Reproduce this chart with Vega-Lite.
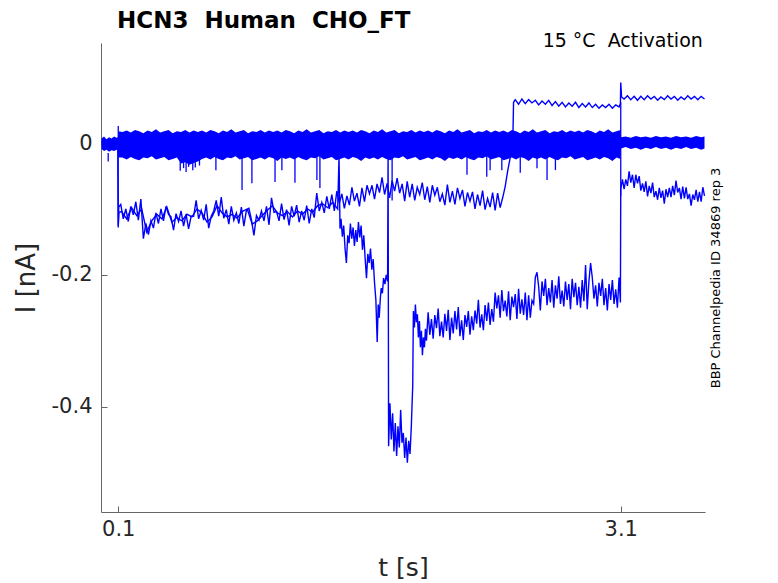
{
  "$schema": "https://vega.github.io/schema/vega-lite/v6.json",
  "description": "HCN3 Human CHO_FT current sweeps, 15 C activation protocol.",
  "width": 604,
  "height": 469,
  "autosize": {"type": "none"},
  "padding": {"left": 101, "top": 43, "right": 73, "bottom": 71},
  "title": {"text": "HCN3 \u00a0Human \u00a0CHO_FT", "anchor": "start", "frame": "group", "dx": 16, "offset": -19, "baseline": "alphabetic", "fontSize": 23, "fontWeight": "bold", "font": "DejaVu Sans", "color": "#000000"},
  "config": {
    "view": {"stroke": null},
    "font": "DejaVu Sans",
    "axis": {"grid": false, "domainColor": "#666666", "tickColor": "#666666", "labelColor": "#262626", "titleColor": "#262626", "labelFont": "DejaVu Sans", "titleFont": "DejaVu Sans", "titleFontWeight": "normal", "labelFontSize": 21, "titleFontSize": 25}
  },
  "datasets": {
    "band": [
      {"t":0,"hi":0.007,"lo":-0.009},{"t":0.015,"hi":0.01,"lo":-0.012},{"t":0.03,"hi":0.006,"lo":-0.01},{"t":0.045,"hi":0.009,"lo":-0.013},
      {"t":0.06,"hi":0.007,"lo":-0.011},{"t":0.075,"hi":0.01,"lo":-0.012},{"t":0.09,"hi":0.008,"lo":-0.01},{"t":0.099,"hi":0.009,"lo":-0.012},
      {"t":0.101,"hi":0.018,"lo":-0.022},
      {"t":0.125,"hi":0.017,"lo":-0.022},{"t":0.15,"hi":0.019,"lo":-0.025},{"t":0.175,"hi":0.016,"lo":-0.021},{"t":0.2,"hi":0.02,"lo":-0.024},
      {"t":0.225,"hi":0.018,"lo":-0.026},{"t":0.25,"hi":0.015,"lo":-0.022},{"t":0.275,"hi":0.019,"lo":-0.023},{"t":0.3,"hi":0.017,"lo":-0.02},
      {"t":0.325,"hi":0.021,"lo":-0.025},{"t":0.35,"hi":0.016,"lo":-0.023},{"t":0.375,"hi":0.018,"lo":-0.021},{"t":0.4,"hi":0.02,"lo":-0.026},
      {"t":0.425,"hi":0.015,"lo":-0.024},{"t":0.45,"hi":0.018,"lo":-0.022},{"t":0.475,"hi":0.017,"lo":-0.031},{"t":0.5,"hi":0.02,"lo":-0.029},
      {"t":0.525,"hi":0.016,"lo":-0.033},{"t":0.55,"hi":0.019,"lo":-0.03},{"t":0.575,"hi":0.017,"lo":-0.028},{"t":0.6,"hi":0.019,"lo":-0.024},
      {"t":0.625,"hi":0.016,"lo":-0.022},{"t":0.65,"hi":0.02,"lo":-0.025},{"t":0.675,"hi":0.018,"lo":-0.021},{"t":0.7,"hi":0.015,"lo":-0.024},
      {"t":0.725,"hi":0.019,"lo":-0.026},{"t":0.75,"hi":0.017,"lo":-0.022},{"t":0.775,"hi":0.021,"lo":-0.023},{"t":0.8,"hi":0.016,"lo":-0.02},
      {"t":0.825,"hi":0.018,"lo":-0.025},{"t":0.85,"hi":0.02,"lo":-0.023},{"t":0.875,"hi":0.015,"lo":-0.021},{"t":0.9,"hi":0.018,"lo":-0.026},
      {"t":0.925,"hi":0.017,"lo":-0.024},{"t":0.95,"hi":0.02,"lo":-0.022},{"t":0.975,"hi":0.016,"lo":-0.025},{"t":1,"hi":0.019,"lo":-0.021},
      {"t":1.025,"hi":0.017,"lo":-0.023},{"t":1.05,"hi":0.019,"lo":-0.027},{"t":1.075,"hi":0.016,"lo":-0.022},{"t":1.1,"hi":0.02,"lo":-0.024},
      {"t":1.125,"hi":0.018,"lo":-0.022},{"t":1.15,"hi":0.015,"lo":-0.025},{"t":1.175,"hi":0.019,"lo":-0.021},{"t":1.2,"hi":0.017,"lo":-0.024},
      {"t":1.225,"hi":0.021,"lo":-0.026},{"t":1.25,"hi":0.016,"lo":-0.022},{"t":1.275,"hi":0.018,"lo":-0.023},{"t":1.3,"hi":0.02,"lo":-0.02},
      {"t":1.325,"hi":0.015,"lo":-0.025},{"t":1.35,"hi":0.018,"lo":-0.023},{"t":1.375,"hi":0.017,"lo":-0.021},{"t":1.4,"hi":0.02,"lo":-0.026},
      {"t":1.425,"hi":0.016,"lo":-0.024},{"t":1.45,"hi":0.019,"lo":-0.022},{"t":1.475,"hi":0.017,"lo":-0.025},{"t":1.5,"hi":0.019,"lo":-0.021},
      {"t":1.525,"hi":0.016,"lo":-0.023},{"t":1.55,"hi":0.02,"lo":-0.027},{"t":1.575,"hi":0.018,"lo":-0.022},{"t":1.6,"hi":0.015,"lo":-0.024},
      {"t":1.625,"hi":0.019,"lo":-0.022},{"t":1.65,"hi":0.017,"lo":-0.025},{"t":1.675,"hi":0.021,"lo":-0.021},{"t":1.7,"hi":0.016,"lo":-0.024},
      {"t":1.725,"hi":0.018,"lo":-0.026},{"t":1.75,"hi":0.02,"lo":-0.022},{"t":1.775,"hi":0.015,"lo":-0.023},{"t":1.8,"hi":0.018,"lo":-0.02},
      {"t":1.825,"hi":0.017,"lo":-0.025},{"t":1.85,"hi":0.02,"lo":-0.023},{"t":1.875,"hi":0.016,"lo":-0.021},{"t":1.9,"hi":0.019,"lo":-0.026},
      {"t":1.925,"hi":0.017,"lo":-0.024},{"t":1.95,"hi":0.019,"lo":-0.022},{"t":1.975,"hi":0.016,"lo":-0.025},{"t":2,"hi":0.02,"lo":-0.021},
      {"t":2.025,"hi":0.018,"lo":-0.023},{"t":2.05,"hi":0.015,"lo":-0.027},{"t":2.075,"hi":0.019,"lo":-0.022},{"t":2.1,"hi":0.017,"lo":-0.024},
      {"t":2.125,"hi":0.021,"lo":-0.022},{"t":2.15,"hi":0.016,"lo":-0.025},{"t":2.175,"hi":0.018,"lo":-0.021},{"t":2.2,"hi":0.02,"lo":-0.024},
      {"t":2.225,"hi":0.015,"lo":-0.026},{"t":2.25,"hi":0.018,"lo":-0.022},{"t":2.275,"hi":0.017,"lo":-0.023},{"t":2.3,"hi":0.02,"lo":-0.02},
      {"t":2.325,"hi":0.016,"lo":-0.025},{"t":2.35,"hi":0.019,"lo":-0.023},{"t":2.375,"hi":0.017,"lo":-0.021},{"t":2.4,"hi":0.019,"lo":-0.026},
      {"t":2.425,"hi":0.016,"lo":-0.024},{"t":2.45,"hi":0.02,"lo":-0.022},{"t":2.475,"hi":0.018,"lo":-0.025},{"t":2.5,"hi":0.015,"lo":-0.021},
      {"t":2.525,"hi":0.019,"lo":-0.023},{"t":2.55,"hi":0.017,"lo":-0.027},{"t":2.575,"hi":0.021,"lo":-0.022},{"t":2.6,"hi":0.016,"lo":-0.024},
      {"t":2.625,"hi":0.018,"lo":-0.022},{"t":2.65,"hi":0.02,"lo":-0.025},{"t":2.675,"hi":0.015,"lo":-0.021},{"t":2.7,"hi":0.018,"lo":-0.024},
      {"t":2.725,"hi":0.017,"lo":-0.026},{"t":2.75,"hi":0.02,"lo":-0.022},{"t":2.775,"hi":0.016,"lo":-0.023},{"t":2.8,"hi":0.019,"lo":-0.02},
      {"t":2.825,"hi":0.017,"lo":-0.025},{"t":2.85,"hi":0.019,"lo":-0.023},{"t":2.875,"hi":0.016,"lo":-0.021},{"t":2.9,"hi":0.02,"lo":-0.026},
      {"t":2.925,"hi":0.018,"lo":-0.024},{"t":2.95,"hi":0.015,"lo":-0.022},{"t":2.975,"hi":0.019,"lo":-0.025},{"t":3,"hi":0.017,"lo":-0.021},
      {"t":3.025,"hi":0.021,"lo":-0.023},{"t":3.05,"hi":0.016,"lo":-0.027},{"t":3.075,"hi":0.018,"lo":-0.022},{"t":3.098,"hi":0.02,"lo":-0.024},
      {"t":3.101,"hi":0.009,"lo":-0.008},{"t":3.13,"hi":0.01,"lo":-0.006},{"t":3.16,"hi":0.008,"lo":-0.009},{"t":3.19,"hi":0.011,"lo":-0.007},
      {"t":3.22,"hi":0.009,"lo":-0.01},{"t":3.25,"hi":0.01,"lo":-0.007},{"t":3.28,"hi":0.008,"lo":-0.009},{"t":3.31,"hi":0.011,"lo":-0.006},
      {"t":3.34,"hi":0.009,"lo":-0.009},{"t":3.37,"hi":0.01,"lo":-0.007},{"t":3.4,"hi":0.008,"lo":-0.01},{"t":3.43,"hi":0.011,"lo":-0.007},
      {"t":3.46,"hi":0.009,"lo":-0.009},{"t":3.49,"hi":0.01,"lo":-0.006},{"t":3.52,"hi":0.008,"lo":-0.009},{"t":3.55,"hi":0.011,"lo":-0.007},
      {"t":3.58,"hi":0.009,"lo":-0.01},{"t":3.6,"hi":0.01,"lo":-0.008}
    ],
    "spikes": [
      {"t":0.04,"v":-0.028},{"t":0.1,"v":0.026},{"t":0.47,"v":-0.042},{"t":0.49,"v":-0.038},{"t":0.505,"v":-0.044},{"t":0.52,"v":-0.036},
      {"t":0.545,"v":-0.041},{"t":0.56,"v":-0.037},{"t":0.585,"v":-0.034},{"t":0.683,"v":-0.041},{"t":0.839,"v":-0.071},{"t":0.898,"v":-0.061},
      {"t":1.036,"v":-0.059},{"t":1.077,"v":-0.041},{"t":1.155,"v":-0.06},{"t":1.286,"v":-0.056},{"t":1.304,"v":-0.068},{"t":1.735,"v":-0.087},
      {"t":2.182,"v":-0.048},{"t":2.3,"v":-0.051},{"t":2.32,"v":-0.041},{"t":2.39,"v":-0.041},{"t":2.5,"v":-0.045},{"t":2.6,"v":-0.038},
      {"t":2.66,"v":-0.056},{"t":2.71,"v":-0.041},{"t":3.1,"v":0.062},{"t":3.1,"v":-0.08}
    ],
    "traces": [
      {"s":"a","t":0,"v":0.002},{"s":"a","t":0.05,"v":-0.003},{"s":"a","t":0.098,"v":0.001},{"s":"a","t":0.1,"v":-0.128},
      {"s":"a","t":0.103,"v":-0.097},{"s":"a","t":0.115,"v":-0.093},{"s":"a","t":0.13,"v":-0.115},{"s":"a","t":0.145,"v":-0.1},
      {"s":"a","t":0.16,"v":-0.119},{"s":"a","t":0.175,"v":-0.096},{"s":"a","t":0.19,"v":-0.109},{"s":"a","t":0.205,"v":-0.089},
      {"s":"a","t":0.22,"v":-0.117},{"s":"a","t":0.235,"v":-0.085},{"s":"a","t":0.25,"v":-0.145},{"s":"a","t":0.265,"v":-0.122},
      {"s":"a","t":0.28,"v":-0.139},{"s":"a","t":0.295,"v":-0.118},{"s":"a","t":0.31,"v":-0.129},{"s":"a","t":0.325,"v":-0.106},
      {"s":"a","t":0.34,"v":-0.122},{"s":"a","t":0.355,"v":-0.1},{"s":"a","t":0.37,"v":-0.118},{"s":"a","t":0.385,"v":-0.096},
      {"s":"a","t":0.4,"v":-0.108},{"s":"a","t":0.415,"v":-0.112},{"s":"a","t":0.43,"v":-0.132},{"s":"a","t":0.445,"v":-0.107},
      {"s":"a","t":0.46,"v":-0.119},{"s":"a","t":0.475,"v":-0.103},{"s":"a","t":0.49,"v":-0.126},{"s":"a","t":0.505,"v":-0.108},
      {"s":"a","t":0.52,"v":-0.13},{"s":"a","t":0.535,"v":-0.111},{"s":"a","t":0.55,"v":-0.111},{"s":"a","t":0.565,"v":-0.087},
      {"s":"a","t":0.58,"v":-0.115},{"s":"a","t":0.595,"v":-0.102},{"s":"a","t":0.61,"v":-0.117},{"s":"a","t":0.625,"v":-0.093},
      {"s":"a","t":0.64,"v":-0.129},{"s":"a","t":0.655,"v":-0.111},{"s":"a","t":0.67,"v":-0.103},{"s":"a","t":0.685,"v":-0.087},
      {"s":"a","t":0.7,"v":-0.111},{"s":"a","t":0.715,"v":-0.082},{"s":"a","t":0.73,"v":-0.114},{"s":"a","t":0.745,"v":-0.101},
      {"s":"a","t":0.76,"v":-0.123},{"s":"a","t":0.775,"v":-0.096},{"s":"a","t":0.79,"v":-0.117},{"s":"a","t":0.805,"v":-0.106},
      {"s":"a","t":0.82,"v":-0.122},{"s":"a","t":0.835,"v":-0.097},{"s":"a","t":0.85,"v":-0.126},{"s":"a","t":0.865,"v":-0.102},
      {"s":"a","t":0.88,"v":-0.099},{"s":"a","t":0.895,"v":-0.116},{"s":"a","t":0.91,"v":-0.14},{"s":"a","t":0.925,"v":-0.11},
      {"s":"a","t":0.94,"v":-0.117},{"s":"a","t":0.955,"v":-0.103},{"s":"a","t":0.97,"v":-0.118},{"s":"a","t":0.985,"v":-0.096},
      {"s":"a","t":1,"v":-0.124},{"s":"a","t":1.015,"v":-0.083},{"s":"a","t":1.03,"v":-0.105},{"s":"a","t":1.045,"v":-0.104},
      {"s":"a","t":1.06,"v":-0.118},{"s":"a","t":1.075,"v":-0.092},{"s":"a","t":1.09,"v":-0.116},{"s":"a","t":1.105,"v":-0.101},
      {"s":"a","t":1.12,"v":-0.125},{"s":"a","t":1.135,"v":-0.096},{"s":"a","t":1.15,"v":-0.111},{"s":"a","t":1.165,"v":-0.094},
      {"s":"a","t":1.18,"v":-0.12},{"s":"a","t":1.195,"v":-0.103},{"s":"a","t":1.21,"v":-0.117},{"s":"a","t":1.225,"v":-0.095},
      {"s":"a","t":1.24,"v":-0.122},{"s":"a","t":1.255,"v":-0.1},{"s":"a","t":1.27,"v":-0.113},{"s":"a","t":1.285,"v":-0.076},
      {"s":"a","t":1.3,"v":-0.103},{"s":"a","t":1.315,"v":-0.09},{"s":"a","t":1.33,"v":-0.106},{"s":"a","t":1.345,"v":-0.081},
      {"s":"a","t":1.36,"v":-0.1},{"s":"a","t":1.375,"v":-0.078},{"s":"a","t":1.39,"v":-0.103},{"s":"a","t":1.405,"v":-0.073},
      {"s":"a","t":1.42,"v":-0.091},{"s":"a","t":1.435,"v":-0.077},{"s":"a","t":1.45,"v":-0.099},{"s":"a","t":1.465,"v":-0.08},
      {"s":"a","t":1.48,"v":-0.094},{"s":"a","t":1.495,"v":-0.067},{"s":"a","t":1.51,"v":-0.088},{"s":"a","t":1.525,"v":-0.076},
      {"s":"a","t":1.54,"v":-0.096},{"s":"a","t":1.555,"v":-0.068},{"s":"a","t":1.57,"v":-0.089},{"s":"a","t":1.585,"v":-0.064},
      {"s":"a","t":1.6,"v":-0.077},{"s":"a","t":1.615,"v":-0.064},{"s":"a","t":1.63,"v":-0.085},{"s":"a","t":1.645,"v":-0.062},
      {"s":"a","t":1.66,"v":-0.075},{"s":"a","t":1.675,"v":-0.052},{"s":"a","t":1.69,"v":-0.078},{"s":"a","t":1.705,"v":-0.061},
      {"s":"a","t":1.72,"v":-0.083},{"s":"a","t":1.735,"v":-0.057},{"s":"a","t":1.75,"v":-0.073},{"s":"a","t":1.765,"v":-0.053},
      {"s":"a","t":1.78,"v":-0.076},{"s":"a","t":1.795,"v":-0.062},{"s":"a","t":1.81,"v":-0.088},{"s":"a","t":1.825,"v":-0.058},
      {"s":"a","t":1.84,"v":-0.082},{"s":"a","t":1.855,"v":-0.062},{"s":"a","t":1.87,"v":-0.087},{"s":"a","t":1.885,"v":-0.067},
      {"s":"a","t":1.9,"v":-0.078},{"s":"a","t":1.915,"v":-0.06},{"s":"a","t":1.93,"v":-0.086},{"s":"a","t":1.945,"v":-0.066},
      {"s":"a","t":1.96,"v":-0.09},{"s":"a","t":1.975,"v":-0.064},{"s":"a","t":1.99,"v":-0.079},{"s":"a","t":2.005,"v":-0.067},
      {"s":"a","t":2.02,"v":-0.089},{"s":"a","t":2.035,"v":-0.077},{"s":"a","t":2.05,"v":-0.094},{"s":"a","t":2.065,"v":-0.063},
      {"s":"a","t":2.08,"v":-0.09},{"s":"a","t":2.095,"v":-0.073},{"s":"a","t":2.11,"v":-0.093},{"s":"a","t":2.125,"v":-0.068},
      {"s":"a","t":2.14,"v":-0.084},{"s":"a","t":2.155,"v":-0.071},{"s":"a","t":2.17,"v":-0.096},{"s":"a","t":2.185,"v":-0.075},
      {"s":"a","t":2.2,"v":-0.088},{"s":"a","t":2.215,"v":-0.074},{"s":"a","t":2.23,"v":-0.1},{"s":"a","t":2.245,"v":-0.078},
      {"s":"a","t":2.26,"v":-0.095},{"s":"a","t":2.275,"v":-0.072},{"s":"a","t":2.29,"v":-0.101},{"s":"a","t":2.305,"v":-0.084},
      {"s":"a","t":2.32,"v":-0.097},{"s":"a","t":2.335,"v":-0.075},{"s":"a","t":2.35,"v":-0.102},{"s":"a","t":2.365,"v":-0.076},
      {"s":"a","t":2.38,"v":-0.098},{"s":"a","t":2.395,"v":-0.083},{"s":"a","t":2.41,"v":-0.066},{"s":"a","t":2.425,"v":-0.042},
      {"s":"a","t":2.44,"v":-0.022},{"s":"a","t":2.455,"v":-0.006},{"s":"a","t":2.46,"v":0.062},{"s":"a","t":2.47,"v":0.066},
      {"s":"a","t":2.49,"v":0.059},{"s":"a","t":2.51,"v":0.067},{"s":"a","t":2.53,"v":0.06},{"s":"a","t":2.55,"v":0.066},
      {"s":"a","t":2.57,"v":0.061},{"s":"a","t":2.59,"v":0.065},{"s":"a","t":2.61,"v":0.058},{"s":"a","t":2.63,"v":0.064},
      {"s":"a","t":2.65,"v":0.059},{"s":"a","t":2.67,"v":0.065},{"s":"a","t":2.69,"v":0.057},{"s":"a","t":2.71,"v":0.063},
      {"s":"a","t":2.73,"v":0.056},{"s":"a","t":2.75,"v":0.062},{"s":"a","t":2.77,"v":0.055},{"s":"a","t":2.79,"v":0.061},
      {"s":"a","t":2.81,"v":0.056},{"s":"a","t":2.83,"v":0.062},{"s":"a","t":2.85,"v":0.054},{"s":"a","t":2.87,"v":0.06},
      {"s":"a","t":2.89,"v":0.055},{"s":"a","t":2.91,"v":0.061},{"s":"a","t":2.93,"v":0.054},{"s":"a","t":2.95,"v":0.059},
      {"s":"a","t":2.97,"v":0.053},{"s":"a","t":2.99,"v":0.058},{"s":"a","t":3.01,"v":0.054},{"s":"a","t":3.03,"v":0.059},
      {"s":"a","t":3.05,"v":0.053},{"s":"a","t":3.07,"v":0.058},{"s":"a","t":3.09,"v":0.055},{"s":"a","t":3.098,"v":0.06},
      {"s":"a","t":3.1,"v":0.092},{"s":"a","t":3.105,"v":0.07},{"s":"a","t":3.12,"v":0.067},{"s":"a","t":3.14,"v":0.072},
      {"s":"a","t":3.16,"v":0.066},{"s":"a","t":3.18,"v":0.071},{"s":"a","t":3.2,"v":0.065},{"s":"a","t":3.22,"v":0.071},
      {"s":"a","t":3.24,"v":0.066},{"s":"a","t":3.26,"v":0.072},{"s":"a","t":3.28,"v":0.067},{"s":"a","t":3.3,"v":0.071},
      {"s":"a","t":3.32,"v":0.065},{"s":"a","t":3.34,"v":0.07},{"s":"a","t":3.36,"v":0.066},{"s":"a","t":3.38,"v":0.072},
      {"s":"a","t":3.4,"v":0.067},{"s":"a","t":3.42,"v":0.071},{"s":"a","t":3.44,"v":0.065},{"s":"a","t":3.46,"v":0.07},
      {"s":"a","t":3.48,"v":0.066},{"s":"a","t":3.5,"v":0.072},{"s":"a","t":3.52,"v":0.067},{"s":"a","t":3.54,"v":0.071},
      {"s":"a","t":3.56,"v":0.066},{"s":"a","t":3.58,"v":0.071},{"s":"a","t":3.6,"v":0.067},

      {"s":"b","t":0,"v":-0.002},{"s":"b","t":0.05,"v":0.002},{"s":"b","t":0.098,"v":0},{"s":"b","t":0.1,"v":-0.125},
      {"s":"b","t":0.104,"v":-0.105},{"s":"b","t":0.12,"v":-0.104},{"s":"b","t":0.15,"v":-0.115},{"s":"b","t":0.18,"v":-0.098},
      {"s":"b","t":0.21,"v":-0.11},{"s":"b","t":0.24,"v":-0.1},{"s":"b","t":0.27,"v":-0.135},{"s":"b","t":0.3,"v":-0.118},
      {"s":"b","t":0.33,"v":-0.108},{"s":"b","t":0.36,"v":-0.115},{"s":"b","t":0.39,"v":-0.097},{"s":"b","t":0.42,"v":-0.12},
      {"s":"b","t":0.45,"v":-0.113},{"s":"b","t":0.48,"v":-0.118},{"s":"b","t":0.51,"v":-0.108},{"s":"b","t":0.54,"v":-0.112},
      {"s":"b","t":0.57,"v":-0.1},{"s":"b","t":0.6,"v":-0.106},{"s":"b","t":0.63,"v":-0.12},{"s":"b","t":0.66,"v":-0.112},
      {"s":"b","t":0.69,"v":-0.095},{"s":"b","t":0.72,"v":-0.106},{"s":"b","t":0.75,"v":-0.112},{"s":"b","t":0.78,"v":-0.108},
      {"s":"b","t":0.81,"v":-0.114},{"s":"b","t":0.84,"v":-0.104},{"s":"b","t":0.87,"v":-0.1},{"s":"b","t":0.9,"v":-0.123},
      {"s":"b","t":0.93,"v":-0.118},{"s":"b","t":0.96,"v":-0.11},{"s":"b","t":0.99,"v":-0.102},{"s":"b","t":1.02,"v":-0.095},
      {"s":"b","t":1.05,"v":-0.106},{"s":"b","t":1.08,"v":-0.11},{"s":"b","t":1.11,"v":-0.104},{"s":"b","t":1.14,"v":-0.112},
      {"s":"b","t":1.17,"v":-0.103},{"s":"b","t":1.2,"v":-0.108},{"s":"b","t":1.23,"v":-0.1},{"s":"b","t":1.26,"v":-0.105},
      {"s":"b","t":1.29,"v":-0.095},{"s":"b","t":1.32,"v":-0.092},{"s":"b","t":1.35,"v":-0.098},{"s":"b","t":1.38,"v":-0.09},
      {"s":"b","t":1.41,"v":-0.1},{"s":"b","t":1.418,"v":-0.02},{"s":"b","t":1.424,"v":-0.13},{"s":"b","t":1.43,"v":-0.115},
      {"s":"b","t":1.438,"v":-0.142},{"s":"b","t":1.446,"v":-0.125},{"s":"b","t":1.454,"v":-0.16},{"s":"b","t":1.462,"v":-0.182},
      {"s":"b","t":1.47,"v":-0.14},{"s":"b","t":1.478,"v":-0.152},{"s":"b","t":1.486,"v":-0.122},{"s":"b","t":1.494,"v":-0.145},
      {"s":"b","t":1.502,"v":-0.128},{"s":"b","t":1.51,"v":-0.156},{"s":"b","t":1.518,"v":-0.132},{"s":"b","t":1.526,"v":-0.15},
      {"s":"b","t":1.534,"v":-0.12},{"s":"b","t":1.542,"v":-0.143},{"s":"b","t":1.55,"v":-0.125},{"s":"b","t":1.558,"v":-0.162},
      {"s":"b","t":1.566,"v":-0.14},{"s":"b","t":1.574,"v":-0.175},{"s":"b","t":1.582,"v":-0.205},{"s":"b","t":1.59,"v":-0.168},
      {"s":"b","t":1.598,"v":-0.182},{"s":"b","t":1.606,"v":-0.16},{"s":"b","t":1.614,"v":-0.192},{"s":"b","t":1.622,"v":-0.176},
      {"s":"b","t":1.63,"v":-0.212},{"s":"b","t":1.638,"v":-0.238},{"s":"b","t":1.646,"v":-0.302},{"s":"b","t":1.652,"v":-0.245},
      {"s":"b","t":1.658,"v":-0.265},{"s":"b","t":1.664,"v":-0.238},{"s":"b","t":1.67,"v":-0.22},{"s":"b","t":1.677,"v":-0.228},
      {"s":"b","t":1.684,"v":-0.205},{"s":"b","t":1.692,"v":-0.214},{"s":"b","t":1.7,"v":-0.2},{"s":"b","t":1.708,"v":-0.21},
      {"s":"b","t":1.711,"v":-0.015},{"s":"b","t":1.714,"v":-0.46},{"s":"b","t":1.722,"v":-0.395},{"s":"b","t":1.73,"v":-0.45},
      {"s":"b","t":1.738,"v":-0.41},{"s":"b","t":1.746,"v":-0.468},{"s":"b","t":1.754,"v":-0.425},{"s":"b","t":1.762,"v":-0.475},
      {"s":"b","t":1.77,"v":-0.43},{"s":"b","t":1.778,"v":-0.462},{"s":"b","t":1.786,"v":-0.405},{"s":"b","t":1.794,"v":-0.455},
      {"s":"b","t":1.802,"v":-0.44},{"s":"b","t":1.81,"v":-0.478},{"s":"b","t":1.818,"v":-0.447},{"s":"b","t":1.826,"v":-0.485},
      {"s":"b","t":1.834,"v":-0.452},{"s":"b","t":1.842,"v":-0.472},{"s":"b","t":1.85,"v":-0.428},{"s":"b","t":1.855,"v":-0.39},
      {"s":"b","t":1.858,"v":-0.37},{"s":"b","t":1.862,"v":-0.255},{"s":"b","t":1.868,"v":-0.28},{"s":"b","t":1.874,"v":-0.245},
      {"s":"b","t":1.88,"v":-0.272},{"s":"b","t":1.886,"v":-0.26},{"s":"b","t":1.892,"v":-0.295},{"s":"b","t":1.898,"v":-0.27},
      {"s":"b","t":1.904,"v":-0.31},{"s":"b","t":1.91,"v":-0.285},{"s":"b","t":1.916,"v":-0.322},{"s":"b","t":1.922,"v":-0.295},
      {"s":"b","t":1.928,"v":-0.31},{"s":"b","t":1.934,"v":-0.282},{"s":"b","t":1.94,"v":-0.3},{"s":"b","t":1.95,"v":-0.257},
      {"s":"b","t":1.96,"v":-0.291},{"s":"b","t":1.97,"v":-0.267},{"s":"b","t":1.98,"v":-0.297},{"s":"b","t":1.99,"v":-0.261},
      {"s":"b","t":2,"v":-0.281},{"s":"b","t":2.01,"v":-0.251},{"s":"b","t":2.02,"v":-0.293},{"s":"b","t":2.03,"v":-0.271},
      {"s":"b","t":2.04,"v":-0.295},{"s":"b","t":2.05,"v":-0.259},{"s":"b","t":2.06,"v":-0.285},{"s":"b","t":2.07,"v":-0.253},
      {"s":"b","t":2.08,"v":-0.299},{"s":"b","t":2.09,"v":-0.265},{"s":"b","t":2.1,"v":-0.289},{"s":"b","t":2.11,"v":-0.255},
      {"s":"b","t":2.12,"v":-0.283},{"s":"b","t":2.13,"v":-0.249},{"s":"b","t":2.14,"v":-0.293},{"s":"b","t":2.15,"v":-0.269},
      {"s":"b","t":2.16,"v":-0.299},{"s":"b","t":2.17,"v":-0.261},{"s":"b","t":2.18,"v":-0.279},{"s":"b","t":2.19,"v":-0.255},
      {"s":"b","t":2.2,"v":-0.291},{"s":"b","t":2.21,"v":-0.263},{"s":"b","t":2.22,"v":-0.284},{"s":"b","t":2.23,"v":-0.254},
      {"s":"b","t":2.24,"v":-0.274},{"s":"b","t":2.25,"v":-0.238},{"s":"b","t":2.26,"v":-0.28},{"s":"b","t":2.27,"v":-0.26},
      {"s":"b","t":2.28,"v":-0.284},{"s":"b","t":2.29,"v":-0.246},{"s":"b","t":2.3,"v":-0.27},{"s":"b","t":2.31,"v":-0.242},
      {"s":"b","t":2.32,"v":-0.276},{"s":"b","t":2.33,"v":-0.252},{"s":"b","t":2.34,"v":-0.271},{"s":"b","t":2.35,"v":-0.227},
      {"s":"b","t":2.36,"v":-0.251},{"s":"b","t":2.37,"v":-0.231},{"s":"b","t":2.38,"v":-0.265},{"s":"b","t":2.39,"v":-0.223},
      {"s":"b","t":2.4,"v":-0.255},{"s":"b","t":2.41,"v":-0.239},{"s":"b","t":2.42,"v":-0.263},{"s":"b","t":2.43,"v":-0.225},
      {"s":"b","t":2.44,"v":-0.269},{"s":"b","t":2.45,"v":-0.233},{"s":"b","t":2.46,"v":-0.249},{"s":"b","t":2.47,"v":-0.229},
      {"s":"b","t":2.48,"v":-0.267},{"s":"b","t":2.49,"v":-0.221},{"s":"b","t":2.5,"v":-0.259},{"s":"b","t":2.51,"v":-0.237},
      {"s":"b","t":2.52,"v":-0.261},{"s":"b","t":2.53,"v":-0.227},{"s":"b","t":2.54,"v":-0.269},{"s":"b","t":2.55,"v":-0.231},
      {"s":"b","t":2.56,"v":-0.265},{"s":"b","t":2.57,"v":-0.239},{"s":"b","t":2.58,"v":-0.244},{"s":"b","t":2.59,"v":-0.204},
      {"s":"b","t":2.6,"v":-0.196},{"s":"b","t":2.61,"v":-0.218},{"s":"b","t":2.62,"v":-0.254},{"s":"b","t":2.63,"v":-0.21},
      {"s":"b","t":2.64,"v":-0.232},{"s":"b","t":2.65,"v":-0.206},{"s":"b","t":2.66,"v":-0.246},{"s":"b","t":2.67,"v":-0.22},
      {"s":"b","t":2.68,"v":-0.242},{"s":"b","t":2.69,"v":-0.208},{"s":"b","t":2.7,"v":-0.25},{"s":"b","t":2.71,"v":-0.216},
      {"s":"b","t":2.72,"v":-0.236},{"s":"b","t":2.73,"v":-0.202},{"s":"b","t":2.74,"v":-0.244},{"s":"b","t":2.75,"v":-0.224},
      {"s":"b","t":2.76,"v":-0.248},{"s":"b","t":2.77,"v":-0.21},{"s":"b","t":2.78,"v":-0.238},{"s":"b","t":2.79,"v":-0.214},
      {"s":"b","t":2.8,"v":-0.252},{"s":"b","t":2.81,"v":-0.206},{"s":"b","t":2.82,"v":-0.234},{"s":"b","t":2.83,"v":-0.212},
      {"s":"b","t":2.84,"v":-0.246},{"s":"b","t":2.85,"v":-0.218},{"s":"b","t":2.86,"v":-0.25},{"s":"b","t":2.87,"v":-0.208},
      {"s":"b","t":2.88,"v":-0.24},{"s":"b","t":2.89,"v":-0.185},{"s":"b","t":2.9,"v":-0.252},{"s":"b","t":2.91,"v":-0.21},
      {"s":"b","t":2.92,"v":-0.182},{"s":"b","t":2.93,"v":-0.204},{"s":"b","t":2.94,"v":-0.236},{"s":"b","t":2.95,"v":-0.216},
      {"s":"b","t":2.96,"v":-0.248},{"s":"b","t":2.97,"v":-0.212},{"s":"b","t":2.98,"v":-0.232},{"s":"b","t":2.99,"v":-0.206},
      {"s":"b","t":3,"v":-0.246},{"s":"b","t":3.01,"v":-0.22},{"s":"b","t":3.02,"v":-0.254},{"s":"b","t":3.03,"v":-0.214},
      {"s":"b","t":3.04,"v":-0.238},{"s":"b","t":3.05,"v":-0.208},{"s":"b","t":3.06,"v":-0.244},{"s":"b","t":3.07,"v":-0.222},
      {"s":"b","t":3.08,"v":-0.25},{"s":"b","t":3.09,"v":-0.204},{"s":"b","t":3.098,"v":-0.242},{"s":"b","t":3.1,"v":-0.07},
      {"s":"b","t":3.11,"v":-0.055},{"s":"b","t":3.12,"v":-0.07},{"s":"b","t":3.13,"v":-0.055},{"s":"b","t":3.14,"v":-0.065},
      {"s":"b","t":3.15,"v":-0.043},{"s":"b","t":3.16,"v":-0.06},{"s":"b","t":3.17,"v":-0.048},{"s":"b","t":3.18,"v":-0.068},
      {"s":"b","t":3.19,"v":-0.048},{"s":"b","t":3.2,"v":-0.061},{"s":"b","t":3.21,"v":-0.05},{"s":"b","t":3.22,"v":-0.072},
      {"s":"b","t":3.23,"v":-0.061},{"s":"b","t":3.24,"v":-0.074},{"s":"b","t":3.25,"v":-0.058},{"s":"b","t":3.26,"v":-0.081},
      {"s":"b","t":3.27,"v":-0.065},{"s":"b","t":3.28,"v":-0.076},{"s":"b","t":3.29,"v":-0.06},{"s":"b","t":3.3,"v":-0.082},
      {"s":"b","t":3.31,"v":-0.073},{"s":"b","t":3.32,"v":-0.086},{"s":"b","t":3.33,"v":-0.068},{"s":"b","t":3.34,"v":-0.083},
      {"s":"b","t":3.35,"v":-0.072},{"s":"b","t":3.36,"v":-0.092},{"s":"b","t":3.37,"v":-0.07},{"s":"b","t":3.38,"v":-0.082},
      {"s":"b","t":3.39,"v":-0.068},{"s":"b","t":3.4,"v":-0.082},{"s":"b","t":3.41,"v":-0.065},{"s":"b","t":3.42,"v":-0.079},
      {"s":"b","t":3.43,"v":-0.057},{"s":"b","t":3.44,"v":-0.075},{"s":"b","t":3.45,"v":-0.068},{"s":"b","t":3.46,"v":-0.085},
      {"s":"b","t":3.47,"v":-0.066},{"s":"b","t":3.48,"v":-0.084},{"s":"b","t":3.49,"v":-0.067},{"s":"b","t":3.5,"v":-0.085},
      {"s":"b","t":3.51,"v":-0.077},{"s":"b","t":3.52,"v":-0.095},{"s":"b","t":3.53,"v":-0.078},{"s":"b","t":3.54,"v":-0.086},
      {"s":"b","t":3.55,"v":-0.071},{"s":"b","t":3.56,"v":-0.089},{"s":"b","t":3.57,"v":-0.074},{"s":"b","t":3.58,"v":-0.089},
      {"s":"b","t":3.59,"v":-0.067},{"s":"b","t":3.6,"v":-0.08}
    ],
    "note": [{"label": "15 °C \u00a0Activation"}]
  },
  "layer": [
    {
      "data": {"name": "band"},
      "mark": {"type": "area", "color": "#0000ff", "opacity": 1},
      "encoding": {
        "x": {"field": "t", "type": "quantitative", "scale": {"domain": [-0.003, 3.603], "nice": false, "zero": false},
              "axis": {"values": [0.1, 3.1], "format": ".1f", "title": "t [s]", "tickSize": -6, "labelPadding": 12, "titlePadding": 16}},
        "y": {"field": "hi", "type": "quantitative", "scale": {"domain": [-0.56, 0.152], "nice": false, "zero": false},
              "axis": {"values": [0, -0.2, -0.4], "format": "~g", "labelExpr": "replace(datum.label, '\u2212', '-')", "title": "I [nA]", "titleFontSize": 26, "tickSize": -6, "labelPadding": 15, "titlePadding": 12}},
        "y2": {"field": "lo"}
      }
    },
    {
      "data": {"name": "spikes"},
      "mark": {"type": "rule", "color": "#0000ff", "strokeWidth": 1.3},
      "encoding": {
        "x": {"field": "t", "type": "quantitative"},
        "y": {"field": "v", "type": "quantitative", "axis": null},
        "y2": {"datum": -0.015}
      }
    },
    {
      "data": {"name": "traces"},
      "mark": {"type": "line", "color": "#0000ff", "strokeWidth": 1.4},
      "encoding": {
        "x": {"field": "t", "type": "quantitative"},
        "y": {"field": "v", "type": "quantitative", "axis": null},
        "detail": {"field": "s"}
      }
    },
    {
      "data": {"name": "note"},
      "mark": {"type": "text", "align": "right", "baseline": "alphabetic", "fontSize": 19, "color": "#000000", "font": "DejaVu Sans"},
      "encoding": {
        "x": {"datum": 3.59, "type": "quantitative"},
        "y": {"datum": 0.1457, "type": "quantitative", "axis": null},
        "text": {"field": "label"}
      }
    },
    {
      "data": {"name": "note"},
      "mark": {"type": "rule", "strokeOpacity": 0},
      "encoding": {
        "y": {"datum": 0, "type": "quantitative",
              "axis": {"orient": "right", "title": "BBP Channelpedia ID 34869 rep 3", "labels": false, "ticks": false, "domain": false, "titleAngle": 270, "titlePadding": 17, "titleFontSize": 13, "titleColor": "#000000"}}
      }
    }
  ],
  "resolve": {"axis": {"y": "independent"}}
}
